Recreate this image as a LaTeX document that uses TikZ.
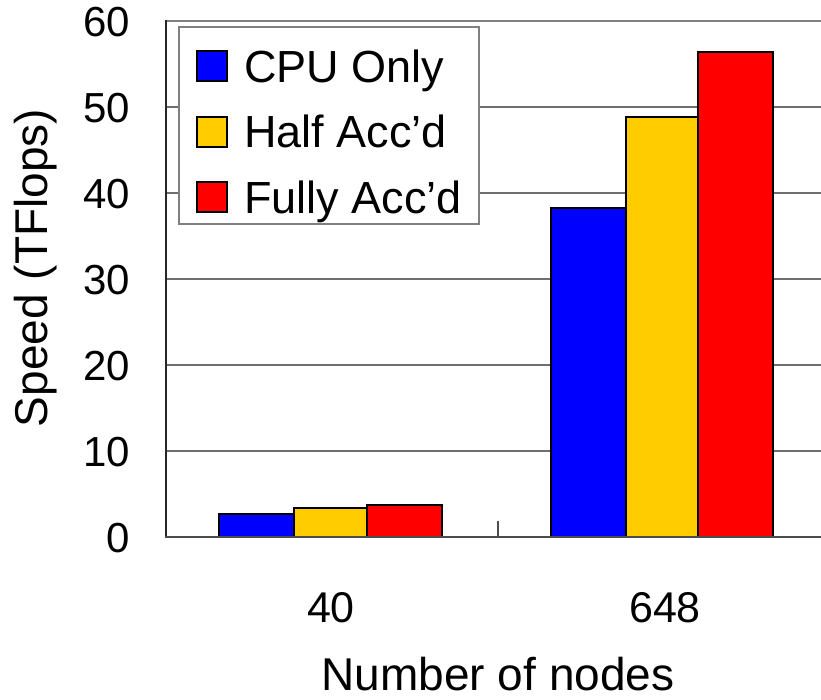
\documentclass[tikz,border=0pt]{standalone}
\usepackage{fontspec}
\setmainfont{Liberation Sans}
\definecolor{cpublue}{RGB}{0,0,255}
\definecolor{halfyel}{RGB}{255,204,0}
\definecolor{fullred}{RGB}{255,0,0}
\definecolor{gridgray}{RGB}{110,110,110}
\begin{document}
\begin{tikzpicture}[x=1pt,y=-1pt,
  bar/.style={draw=black,line width=2.6pt,line join=miter},
  gridline/.style={draw=gridgray,line width=1.4pt},
  ticklab/.style={font=\fontsize{42}{42}\selectfont,anchor=base east,inner sep=0pt},
  catlab/.style={font=\fontsize{43}{43}\selectfont,anchor=base,inner sep=0pt},
  leglab/.style={font=\fontsize{45}{45}\selectfont,anchor=base west,inner sep=0pt},
  legsq/.style={draw=black,line width=2.2pt},
  axtitle/.style={font=\fontsize{46}{46}\selectfont,inner sep=0pt}]
\useasboundingbox (0,0) rectangle (821,699);
% grid
\foreach \yy in {107,193,279,365,451}
  \draw[gridline] (166,\yy) -- (821,\yy);
\draw[draw=gray,line width=2pt] (166,21) -- (821,21);
% bars
\draw[bar,fill=cpublue] (219,537) rectangle (294,514);
\draw[bar,fill=halfyel] (294,537) rectangle (367,508);
\draw[bar,fill=fullred] (367,537) rectangle (442,505);
\draw[bar,fill=cpublue] (551,537) rectangle (626,208);
\draw[bar,fill=halfyel] (626,537) rectangle (698,117);
\draw[bar,fill=fullred] (698,537) rectangle (773,52);
% axes
\draw[draw=black!85,line width=2pt] (166,20) -- (166,538);
\draw[draw=black!70,line width=2pt] (165,537) -- (821,537);
\draw[draw=black!70,line width=1.5pt] (498,537) -- (498,521);
% tick labels
\node[ticklab] (t60) at (130,36) {60};
\node[ticklab] (t50) at (130,122) {50};
\node[ticklab] (t40) at (130,208) {40};
\node[ticklab] (t30) at (130,294) {30};
\node[ticklab] (t20) at (130,380) {20};
\node[ticklab] (t10) at (130,466) {10};
\node[ticklab] (t0) at (130,552) {0};
\node[catlab] (c40) at (331,622) {40};
\node[catlab] (c648) at (665,622) {648};
\node[axtitle,rotate=90] (ytitle) at (36,268) {Speed\hspace{14pt}(TFlops)};
\node[axtitle,anchor=base] (xtitle) at (498,690) {Number of nodes};
% legend
\draw[fill=white,draw=gray,line width=1.5pt] (179,27) rectangle (479,224);
\draw[legsq,fill=cpublue] (197,51) rectangle (227,81);
\draw[legsq,fill=halfyel] (197,117) rectangle (227,147);
\draw[legsq,fill=fullred] (197,182) rectangle (227,212);
\node[leglab] (l1) at (244,82) {CPU Only};
\node[leglab] (l2) at (244,147) {Half Acc’d};
\node[leglab] (l3) at (244,213) {Fully Acc’d};
\end{tikzpicture}
\end{document}
